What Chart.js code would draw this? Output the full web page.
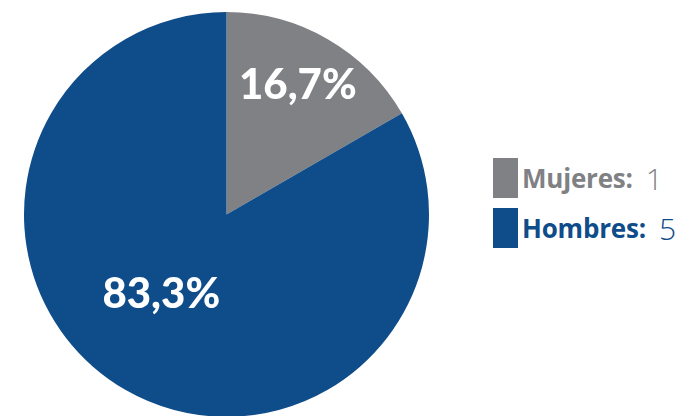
<!DOCTYPE html>
<html>
<head>
<meta charset="utf-8">
<script src="https://cdn.jsdelivr.net/npm/chart.js@4"></script>
<style>
  html, body { margin: 0; padding: 0; background: #fff; overflow: hidden; }
  body { width: 693px; height: 416px; position: relative; }
  #wrap { position: absolute; left: 0; top: 0; width: 453px; height: 429px; }
  #legend { position: absolute; left: 493px; top: 158px; font-family: "Open Sans", sans-serif; }
  .item { display: flex; align-items: center; height: 40px; margin-bottom: 10px; }
  .box { width: 25px; height: 40px; margin-right: 4px; }
  .name { font-weight: 700; font-size: 26px; letter-spacing: -0.2px; }
  .val { font-weight: 300; font-size: 30px; margin-left: 13px; }
</style>
</head>
<body>
<div id="wrap"><canvas id="pie"></canvas></div>
<div id="legend"></div>
<script>
// datos
const categorias = ['Mujeres', 'Hombres'];
const valores = [1, 5];
const colores = ['#808185', '#0f4c8a'];

const total = valores.reduce((a, b) => a + b, 0);
const pct = v => (v / total * 100).toFixed(1).replace('.', ',') + '%';

// leyenda a mano (nombre en negrita + valor fino)
document.getElementById('legend').innerHTML = categorias.map((c, i) => `
  <div class="item" style="color:${colores[i]}">
    <div class="box" style="background:${colores[i]}"></div>
    <span class="name">${c}:</span><span class="val">${valores[i]}</span>
  </div>
`).join('');

// posicion de las etiquetas dentro de cada porcion
const labelRadio = [0.73, 0.51];
const labelGiro = [-0.02, 0.16];

const etiquetas = {
  id: 'etiquetas',
  afterDatasetsDraw(chart) {
    const ctx = chart.ctx;
    const meta = chart.getDatasetMeta(0);
    ctx.save();
    ctx.fillStyle = '#fff';
    ctx.font = '900 42px Lato, sans-serif';
    ctx.textAlign = 'center';
    ctx.textBaseline = 'middle';
    meta.data.forEach((arc, i) => {
      const p = arc.getProps(['x', 'y', 'startAngle', 'endAngle', 'outerRadius']);
      const ang = (p.startAngle + p.endAngle) / 2 + labelGiro[i];
      const r = p.outerRadius * labelRadio[i];
      ctx.fillText(pct(valores[i]), p.x + Math.cos(ang) * r, p.y + Math.sin(ang) * r);
    });
    ctx.restore();
  }
};

new Chart(document.getElementById('pie'), {
  type: 'pie',
  data: {
    labels: categorias,
    datasets: [{
      data: valores,
      backgroundColor: colores,
      borderWidth: 0
    }]
  },
  options: {
    responsive: true,
    maintainAspectRatio: false,
    animation: false,
    layout: { padding: { left: 24, right: 24, top: 12, bottom: 12 } },
    plugins: {
      legend: { display: false },
      tooltip: { enabled: false }
    }
  },
  plugins: [etiquetas]
});
</script>
</body>
</html>
